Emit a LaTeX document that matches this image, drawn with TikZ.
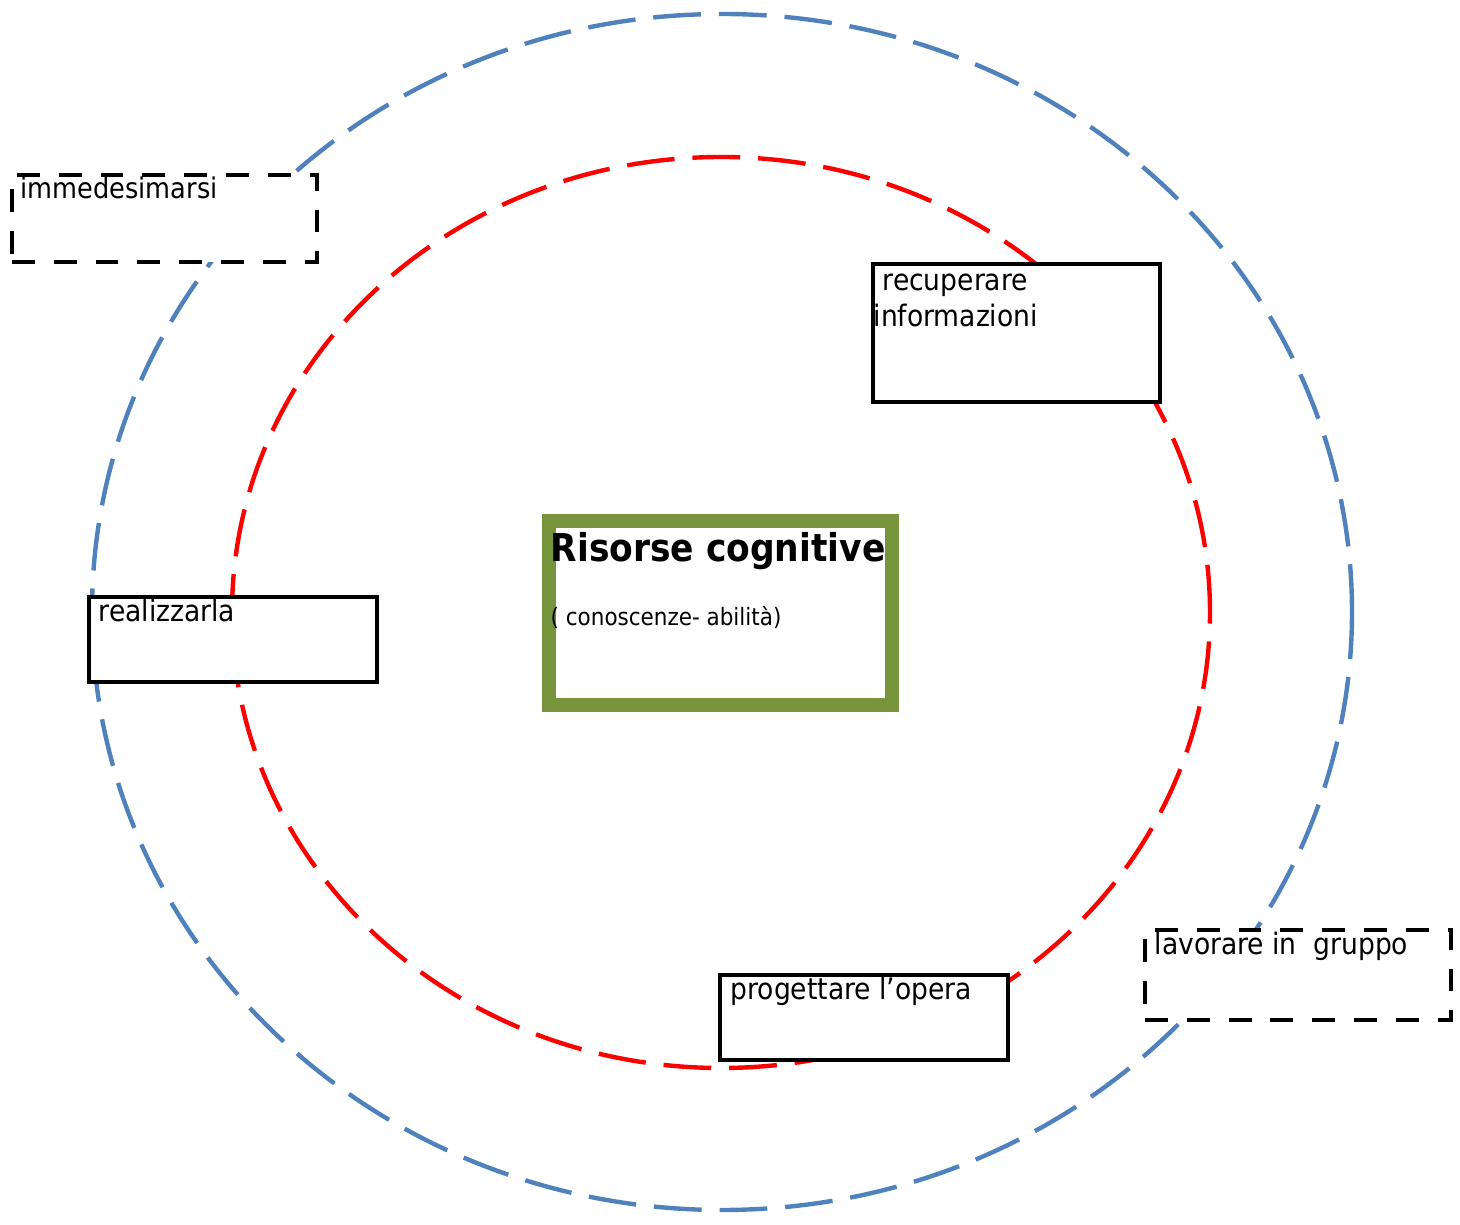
\documentclass[tikz,border=0pt]{standalone}
\usepackage{fontspec}
\setmainfont{DejaVu Sans Condensed}
\definecolor{ringblue}{HTML}{4F81BD}
\definecolor{ringred}{HTML}{FF0000}
\definecolor{coregreen}{HTML}{77933C}
\tikzset{
  ring/.style={line width=1.25pt, dash pattern=on 13.6pt off 5.1pt},
  box/.style={draw, line width=1.15pt, fill=white, anchor=north west, inner sep=0pt, outer sep=0pt},
  dashbox/.style={box, dash pattern=on 6.5pt off 5.4pt},
  tag/.style={anchor=base west, inner sep=0pt, align=left,
    font=\fontsize{8.4}{10.5}\selectfont},
}
\begin{document}
\begin{tikzpicture}
  \useasboundingbox (0,0) rectangle (14.6,-12.25);
  \draw[ring, ringblue] (7.22,-6.12) ellipse [x radius=6.30cm, y radius=5.98cm];
  \draw[ring, ringred] (7.21,-6.125) ellipse [x radius=4.89cm, y radius=4.555cm];
  \node[box, line width=3.8pt, draw=coregreen, minimum width=3.43cm, minimum height=1.84cm,
    label={[tag, font=\bfseries\fontsize{10.9}{13}\selectfont, xshift=0.01cm, yshift=-0.41cm]north west:Risorse cognitive},
    label={[tag, font=\fontsize{6.8}{8}\selectfont, xshift=0.01cm, yshift=-1.05cm]north west:( conoscenze- abilità)}]
    (core) at (5.49,-5.21) {};
  \node[dashbox, minimum width=3.05cm, minimum height=0.87cm,
    label={[tag, font=\fontsize{8.1}{10}\selectfont, xshift=0.08cm, yshift=-0.24cm]north west:immedesimarsi}]
    (immedesimarsi) at (0.12,-1.75) {};
  \node[box, minimum width=2.87cm, minimum height=1.38cm,
    label={[tag, yshift=-0.63cm]north west:\hspace*{0.09cm}recuperare\\informazioni}]
    (recuperare) at (8.73,-2.64) {};
  \node[box, minimum width=2.88cm, minimum height=0.85cm,
    label={[tag, xshift=0.09cm, yshift=-0.25cm]north west:realizzarla}]
    (realizzarla) at (0.89,-5.97) {};
  \node[box, minimum width=2.88cm, minimum height=0.85cm,
    label={[tag, xshift=0.10cm, yshift=-0.25cm]north west:progettare l’opera}]
    (progettare) at (7.20,-9.75) {};
  \node[dashbox, minimum width=3.06cm, minimum height=0.90cm,
    label={[tag, xshift=0.09cm, yshift=-0.25cm]north west:lavorare in\ \ gruppo}]
    (lavorare) at (11.45,-9.30) {};
\end{tikzpicture}
\end{document}
